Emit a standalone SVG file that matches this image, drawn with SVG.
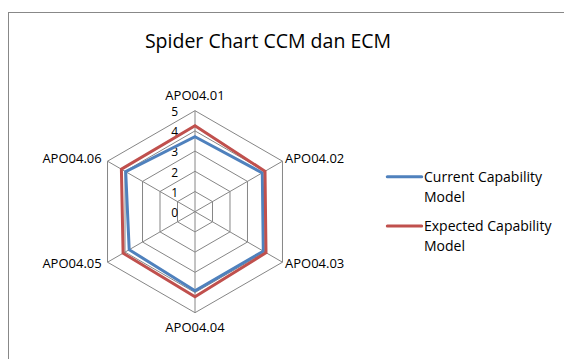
<svg xmlns="http://www.w3.org/2000/svg" width="564" height="359" viewBox="0 0 564 359">
<style>
.t{font-family:"Open Sans","Liberation Sans",sans-serif;fill:#000}
.ax{font-size:13px}
.sc{font-size:12px;text-anchor:end}
.lg{font-size:14px}
.grid{fill:none;stroke:#868686;stroke-width:1}
.cur{fill:none;stroke:#4F81BD;stroke-width:3;stroke-linejoin:miter}
.exp{fill:none;stroke:#C0504D;stroke-width:3;stroke-linejoin:miter}
</style>
<rect x="0" y="0" width="564" height="359" fill="#fff"/>
<rect x="8.5" y="12.5" width="600" height="400" fill="#fff" stroke="#888" stroke-width="1"/>
<text class="t" x="268" y="48" font-size="19.5" text-anchor="middle">Spider Chart CCM dan ECM</text>
<g id="grid">
<polygon class="grid" points="195,191.5 212.49,201.6 212.49,221.8 195,231.9 177.51,221.8 177.51,201.6"/>
<polygon class="grid" points="195,171.3 229.99,191.5 229.99,231.9 195,252.1 160.01,231.9 160.01,191.5"/>
<polygon class="grid" points="195,151.1 247.48,181.4 247.48,242 195,272.3 142.52,242 142.52,181.4"/>
<polygon class="grid" points="195,130.9 264.97,171.3 264.97,252.1 195,292.5 125.03,252.1 125.03,171.3"/>
<polygon class="grid" points="195,110.7 282.47,161.2 282.47,262.2 195,312.7 107.53,262.2 107.53,161.2"/>
<path class="grid" d="M195,211.7V110.7M195,211.7L282.47,161.2M195,211.7L282.47,262.2M195,211.7V312.7M195,211.7L107.53,262.2M195,211.7L107.53,161.2"/>
</g>
<g id="scale">
<text class="t sc" x="178" y="116">5</text>
<text class="t sc" x="178" y="136">4</text>
<text class="t sc" x="178" y="156">3</text>
<text class="t sc" x="178" y="176.5">2</text>
<text class="t sc" x="178" y="196.5">1</text>
<text class="t sc" x="178" y="216.5">0</text>
</g>
<g id="series">
<polygon id="current" class="cur" points="195,136.7 262.3,172.9 263.3,251.2 195,290.7 129.2,249.7 125.7,171.7"/>
<polygon id="expected" class="exp" points="195,125.7 265,171.3 266,252.7 195,296.7 123.1,253.2 121.4,169.2"/>
</g>
<g id="axis-labels">
<text class="t ax" x="195" y="100" text-anchor="middle">APO04.01</text>
<text class="t ax" x="285" y="162.7">APO04.02</text>
<text class="t ax" x="285" y="268.3">APO04.03</text>
<text class="t ax" x="195" y="332" text-anchor="middle">APO04.04</text>
<text class="t ax" x="101.7" y="268.3" text-anchor="end">APO04.05</text>
<text class="t ax" x="101.7" y="162.7" text-anchor="end">APO04.06</text>
</g>
<g id="legend">
<line x1="387.3" y1="176.7" x2="421.7" y2="176.7" stroke="#4F81BD" stroke-width="3" stroke-linecap="round"/>
<text class="t lg" x="424" y="182">Current Capability</text>
<text class="t lg" x="424" y="202">Model</text>
<line x1="387.3" y1="226" x2="421.7" y2="226" stroke="#C0504D" stroke-width="3" stroke-linecap="round"/>
<text class="t lg" x="424" y="231">Expected Capability</text>
<text class="t lg" x="424" y="251">Model</text>
</g>
</svg>
